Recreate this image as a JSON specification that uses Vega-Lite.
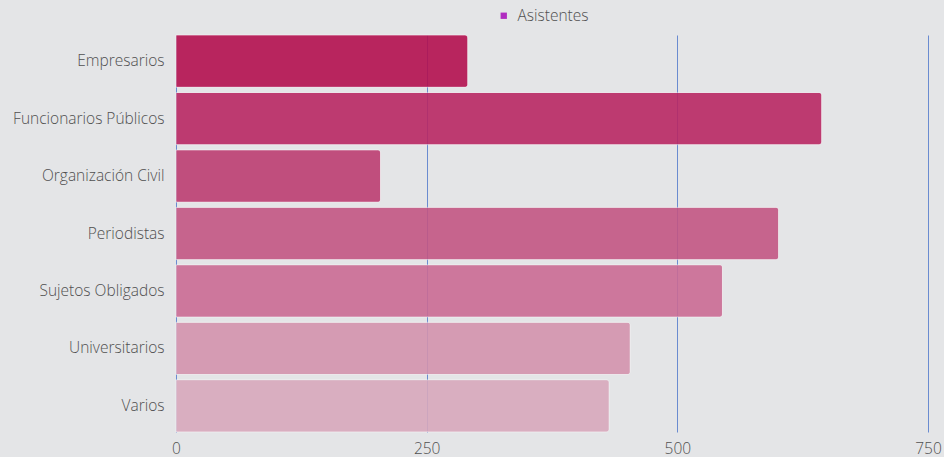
{
  "$schema": "https://vega.github.io/schema/vega-lite/v6.json",
  "autosize": "none",
  "width": 752,
  "height": 397,
  "padding": {"left": 176, "top": 35, "right": 16, "bottom": 25},
  "background": "#e4e5e7",
  "config": {
    "view": {"stroke": null},
    "font": "Open Sans"
  },
  "layer": [
    {
      "data": {
        "values": [
          {"categoria": "Empresarios", "asistentes": 291},
          {"categoria": "Funcionarios Públicos\u2004", "asistentes": 644},
          {"categoria": "Organización Civil", "asistentes": 204},
          {"categoria": "Periodistas", "asistentes": 601},
          {"categoria": "Sujetos Obligados", "asistentes": 545},
          {"categoria": "Universitarios", "asistentes": 453},
          {"categoria": "Varios", "asistentes": 432}
        ]
      },
      "mark": {"type": "bar", "opacity": 0.9, "cornerRadiusEnd": 3, "stroke": "#ffffff", "strokeOpacity": 0.35, "strokeWidth": 1},
      "encoding": {
        "y": {
          "field": "categoria", "type": "nominal", "sort": null,
          "scale": {"paddingInner": 0.09, "paddingOuter": 0.0},
          "axis": {"title": null, "domain": false, "ticks": false, "labelPadding": 12, "labelFontSize": 15.5, "labelFontWeight": 300, "labelColor": "#505050", "labelFont": "Open Sans", "labelLimit": 200}
        },
        "x": {
          "field": "asistentes", "type": "quantitative",
          "scale": {"domain": [0, 750], "nice": false},
          "axis": {"title": null, "values": [0, 250, 500, 750], "domain": false, "ticks": false, "labelPadding": 9, "labelFontSize": 15.5, "labelFontWeight": 300, "labelColor": "#505050", "labelFont": "Open Sans", "grid": true, "gridColor": "#6a8bd0", "gridOpacity": 1, "gridWidth": 1, "labelFlush": false}
        },
        "fill": {
          "field": "categoria", "type": "nominal", "sort": null, "legend": null,
          "scale": {
            "domain": ["Empresarios", "Funcionarios Públicos\u2004", "Organización Civil", "Periodistas", "Sujetos Obligados", "Universitarios", "Varios"],
            "range": ["#b3104f", "#b92763", "#bc3e72", "#c35683", "#ca6b94", "#d393ad", "#d7a8bc"]
          }
        }
      }
    },
    {
      "data": {"values": []},
      "mark": {"type": "square"},
      "encoding": {
        "color": {
          "field": "serie", "type": "nominal",
          "scale": {"domain": ["Asistentes"], "range": ["#b02cc0"]},
          "legend": {"title": null, "orient": "none", "legendX": 320, "legendY": -27, "direction": "horizontal", "symbolType": "square", "symbolSize": 40, "symbolOpacity": 1, "labelFontSize": 15.5, "labelFontWeight": 300, "labelColor": "#505050", "labelFont": "Open Sans", "labelOffset": 6}
        }
      }
    }
  ],
  "resolve": {"scale": {"color": "independent"}}
}
